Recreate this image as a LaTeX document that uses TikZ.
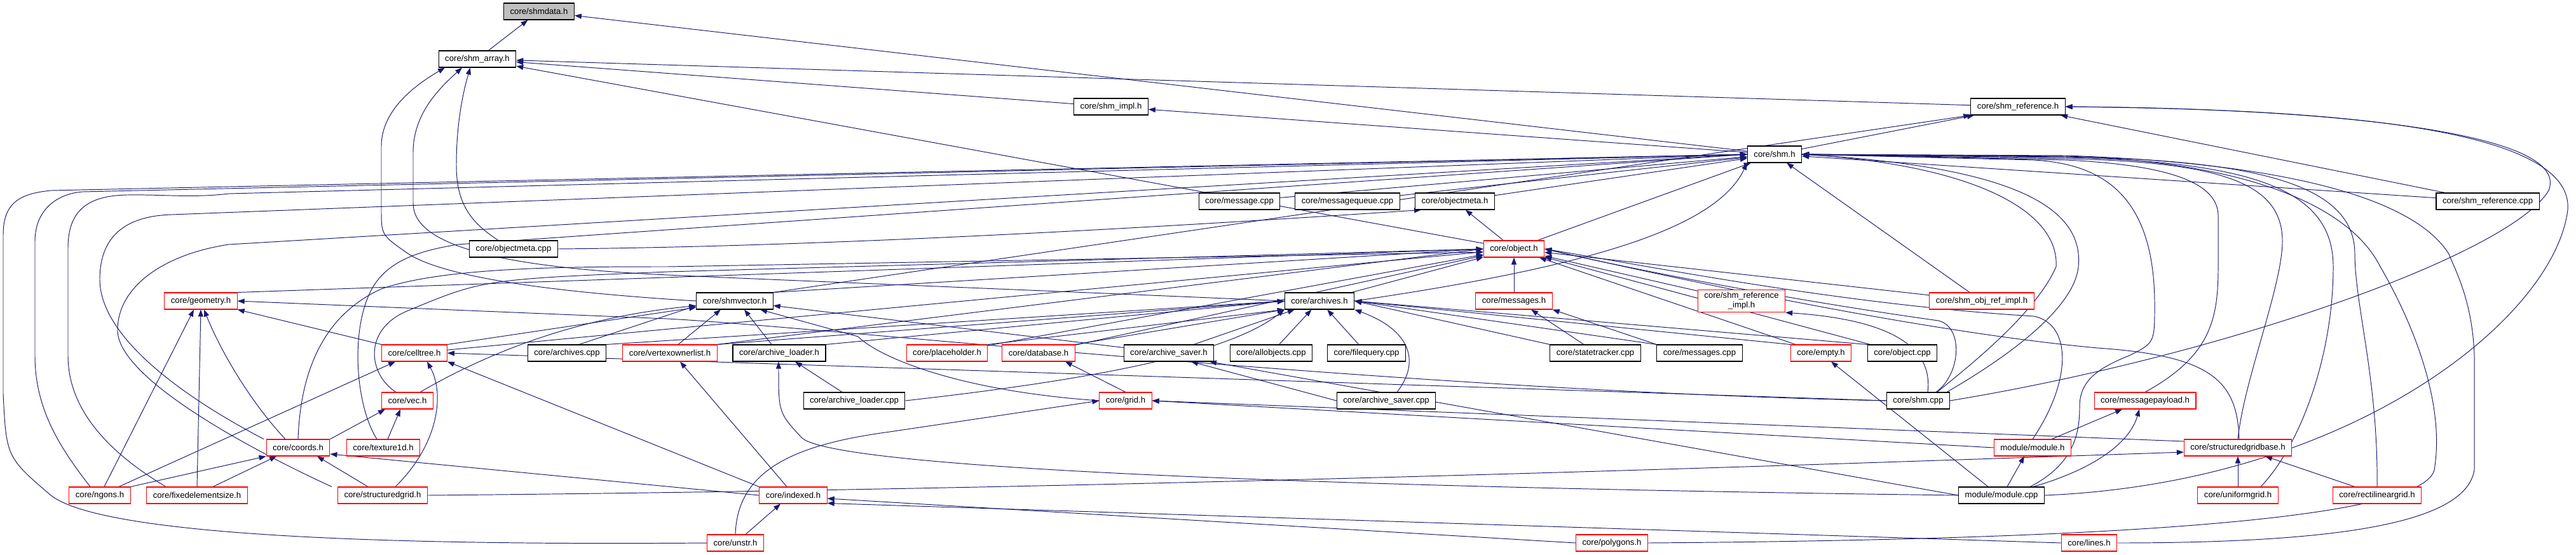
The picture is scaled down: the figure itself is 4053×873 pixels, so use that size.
\documentclass[tikz,border=0pt]{standalone}
\usepackage{fontspec}
\setmainfont{Liberation Sans}
\usetikzlibrary{arrows.meta}
\definecolor{midnightblue}{RGB}{25,25,112}
\definecolor{rootgray}{RGB}{191,191,191}
\pgfdeclarelayer{edges}
\pgfsetlayers{edges,main}
\tikzset{
  file/.style={
    draw=black,
    fill=white,
    line width=0.6pt,
    align=center,
    minimum height=0.52cm,
    inner xsep=0.2cm,
    inner ysep=0.08cm,
    font=\fontsize{7.5}{8.6}\selectfont
  },
  trunc/.style={
    file,
    draw=red
  },
  root/.style={
    file,
    fill=rootgray
  },
  arrow/.style={
    -{Triangle[length=0.22cm,width=0.16cm]},
    line width=0.55pt,
    midnightblue
  }
}

\begin{document}
\begin{tikzpicture}[x=0.02cm,y=-0.02cm]
\useasboundingbox (0,0) rectangle (4053,873);
\node[root] (shmdata) at (848,18) {core/shmdata.h};
\node[file] (shmarray) at (751,93) {core/shm\_array.h};
\node[file] (shmimpl) at (1748,168) {core/shm\_impl.h};
\node[file] (shmref) at (3175,168) {core/shm\_reference.h};
\node[file] (shm) at (2792,243) {core/shm.h};
\node[file] (messagecpp) at (1950,317) {core/message.cpp};
\node[file] (msgqueuecpp) at (2120,317) {core/messagequeue.cpp};
\node[file] (objmetah) at (2289,317) {core/objectmeta.h};
\node[file] (shmrefcpp) at (3914,317) {core/shm\_reference.cpp};
\node[file] (objmetacpp) at (808,392) {core/objectmeta.cpp};
\node[trunc] (objecth) at (2382,392) {core/object.h};
\node[trunc] (geometry) at (316,474) {core/geometry.h};
\node[file] (shmvector) at (1156,474) {core/shmvector.h};
\node[file] (archivesh) at (2076,474) {core/archives.h};
\node[trunc] (messagesh) at (2382,474) {core/messages.h};
\node[trunc] (shmrefimpl) at (2740,474) {core/shm\_reference\\\_impl.h};
\node[trunc] (shmobjrefimpl) at (3118,474) {core/shm\_obj\_ref\_impl.h};
\node[trunc] (celltree) at (652,556) {core/celltree.h};
\node[file] (archivescpp) at (892,556) {core/archives.cpp};
\node[trunc] (vertexowner) at (1054,556) {core/vertexownerlist.h};
\node[file] (loaderh) at (1226,556) {core/archive\_loader.h};
\node[trunc] (placeholder) at (1490,556) {core/placeholder.h};
\node[trunc] (database) at (1634,556) {core/database.h};
\node[file] (saverh) at (1839,556) {core/archive\_saver.h};
\node[file] (allobjects) at (2000,556) {core/allobjects.cpp};
\node[file] (filequery) at (2150,556) {core/filequery.cpp};
\node[file] (statetracker) at (2510,556) {core/statetracker.cpp};
\node[file] (messagescpp) at (2674,556) {core/messages.cpp};
\node[trunc] (emptyh) at (2865,556) {core/empty.h};
\node[file] (objectcpp) at (2993,556) {core/object.cpp};
\node[trunc] (vec) at (641,631) {core/vec.h};
\node[file] (loadercpp) at (1344,631) {core/archive\_loader.cpp};
\node[trunc] (grid) at (1771,631) {core/grid.h};
\node[file] (savercpp) at (2181,631) {core/archive\_saver.cpp};
\node[file] (shmcpp) at (3018,631) {core/shm.cpp};
\node[trunc] (payload) at (3375,631) {core/messagepayload.h};
\node[trunc] (coords) at (469,705) {core/coords.h};
\node[trunc] (texture) at (603,705) {core/texture1d.h};
\node[trunc] (moduleh) at (3198,705) {module/module.h};
\node[trunc] (sgridbase) at (3521,705) {core/structuredgridbase.h};
\node[trunc] (ngons) at (157,780) {core/ngons.h};
\node[trunc] (fixedsize) at (310,780) {core/fixedelementsize.h};
\node[trunc] (sgrid) at (602,780) {core/structuredgrid.h};
\node[trunc] (indexed) at (1248,780) {core/indexed.h};
\node[file] (modulecpp) at (3149,780) {module/module.cpp};
\node[trunc] (ugrid) at (3521,780) {core/uniformgrid.h};
\node[trunc] (rgrid) at (3740,780) {core/rectilineargrid.h};
\node[trunc] (unstr) at (1157,855) {core/unstr.h};
\node[trunc] (polygons) at (2536,855) {core/polygons.h};
\node[trunc] (lines) at (3287,855) {core/lines.h};

\begin{pgfonlayer}{edges}
\draw[arrow] (shmarray) -- (shmdata);
\draw[arrow] (shm) -- (shmdata);
\draw[arrow] (shmimpl) -- (shmarray);
\draw[arrow] (shmref) -- (shmarray);
\draw[arrow] (objecth) -- (shmarray);
\draw[arrow] ([xshift=-0.48cm]objmetacpp.north) .. controls (740,350) and (718,320) .. (718,260) .. controls (718,190) and (730,140) .. ([xshift=-0.22cm]shmarray.south);
\draw[arrow] (shmvector.west) .. controls (900,462) and (700,440) .. (640,398) .. controls (600,370) .. (600,330) -- (600,230) .. controls (600,170) and (660,130) .. ([xshift=-1.02cm]shmarray.south);
\draw[arrow] (archivesh.west) .. controls (1700,460) and (1200,440) .. (1050,433) .. controls (760,420) and (650,380) .. (650,320) -- (650,240) .. controls (650,180) and (690,140) .. ([xshift=-0.48cm]shmarray.south);
\draw[arrow] (shm) -- (shmimpl);
\draw[arrow] (shm) -- (shmref);
\draw[arrow] (shmrefcpp) -- (shmref);
\draw[arrow] (shmrefcpp) -- (shm);
\draw[arrow] (shmvector.north east) -- (shmref.south west);
\draw[arrow] (shmcpp.east) .. controls (3500,560) and (3950,400) .. (4010,300) .. controls (4050,200) and (3600,170) .. (shmref.east);
\draw[arrow] (modulecpp.east) .. controls (3700,760) and (4020,500) .. (4040,330) .. controls (4050,190) and (3600,172) .. (shmref.east);
\draw[arrow] (messagecpp) -- (shm);
\draw[arrow] (msgqueuecpp) -- (shm);
\draw[arrow] (objmetah) -- (shm);
\draw[arrow] (objecth) -- (shm);
\draw[arrow] (objecth) -- (objmetah);
\draw[arrow] (objmetacpp.east) .. controls (1100,390) and (1500,380) .. ([xshift=0.2cm]objmetah.south west);
\draw[arrow] (shmobjrefimpl) -- (shm);
\draw[arrow] (archivesh.east) .. controls (2500,420) and (2700,360) .. (shm.south west);
\draw[arrow] (unstr.west) .. controls (500,860) and (150,835) .. (80,780) .. controls (10,720) .. (5,620) -- (5,370) .. controls (5,320) and (30,305) .. (80,300) -- (shm.west);
\draw[arrow] ([xshift=-0.3cm]ngons.north) .. controls (90,700) and (55,640) .. (55,560) -- (55,380) .. controls (55,330) and (90,305) .. (130,302) -- (shm.west);
\draw[arrow] ([xshift=-0.98cm]fixedsize.north) .. controls (150,700) and (107,630) .. (107,560) -- (107,390) .. controls (107,330) and (140,308) .. (200,307) .. controls (260,306) and (300,312) .. (360,305) -- (shm.west);
\draw[arrow] ([xshift=-1.08cm]coords.north) .. controls (260,610) and (157,520) .. (157,440) .. controls (157,370) and (200,340) .. (270,338) -- (shm.west);
\draw[arrow] ([xshift=-1.6cm]sgrid.north) .. controls (420,720) and (185,600) .. (185,520) .. controls (185,450) and (260,400) .. (360,385) -- (shm.west);
\draw[arrow] ([xshift=-0.2cm]texture.north) .. controls (560,640) and (550,520) .. (585,455) .. controls (610,410) and (660,395) .. (720,385) -- (shm.west);
\draw[arrow] (payload.north) .. controls (3480,560) and (3490,500) .. (3490,420) -- (3490,340) .. controls (3490,290) and (3420,260) .. (3250,252) -- (shm.east);
\draw[arrow] (sgridbase.north) .. controls (3530,600) and (3591,450) .. (3591,380) .. controls (3591,290) and (3500,255) .. (3250,250) -- (shm.east);
\draw[arrow] ([xshift=0.72cm]ugrid.north) .. controls (3620,700) and (3671,560) .. (3671,420) .. controls (3671,300) and (3550,255) .. (3250,248) -- (shm.east);
\draw[arrow] (rgrid.north) .. controls (3742,600) and (3705,480) .. (3705,400) .. controls (3705,290) and (3550,252) .. (3250,247) -- (shm.east);
\draw[arrow] (polygons.east) .. controls (3300,850) and (3810,820) .. (3830,740) .. controls (3850,620) and (3780,480) .. (3745,420) .. controls (3700,330) and (3550,255) .. (3250,246) -- (shm.east);
\draw[arrow] (lines.east) .. controls (3700,855) and (3880,820) .. (3893,740) -- (3893,560) .. controls (3890,470) and (3860,420) .. (3853,400) .. controls (3790,300) and (3550,255) .. (3250,245) -- (shm.east);
\draw[arrow] ([xshift=0.9cm]modulecpp.north) .. controls (3265,730) and (3272,680) .. (3272,640) .. controls (3272,600) and (3300,580) .. (3350,560) .. controls (3390,540) .. (3390,480) .. controls (3390,300) and (3300,258) .. (3200,252) -- (shm.east);
\draw[arrow] ([xshift=0.6cm]shmcpp.north) .. controls (3080,590) and (3200,500) .. (3235,420) .. controls (3240,330) and (3100,260) .. (shm.east);
\draw[arrow] ([xshift=0.9cm]shmcpp.north) .. controls (3110,590) and (3262,500) .. (3270,420) .. controls (3280,320) and (3150,262) .. (shm.east);
\draw[arrow] ([xshift=0.3cm]shmcpp.north) .. controls (3040,560) and (3000,505) .. (shmrefimpl.south east);
\draw[arrow] (geometry.north east) -- (objecth.west);
\draw[arrow] (celltree) -- (objecth);
\draw[arrow] ([xshift=-0.36cm]vec.north) .. controls (580,590) and (570,520) .. (640,490) .. controls (760,440) .. (1050,428) -- (objecth.west);
\draw[arrow] (coords.north) .. controls (472,600) and (500,500) .. (600,455) .. controls (700,420) and (900,420) .. (1050,420) -- ([yshift=-0.1cm]objecth.west);
\draw[arrow] (shmvector.north east) -- (objecth.west);
\draw[arrow] (vertexowner.north east) -- (objecth.west);
\draw[arrow] (placeholder) -- (objecth);
\draw[arrow] (database) -- (objecth);
\draw[arrow] (archivesh) -- (objecth);
\draw[arrow] (messagesh) -- (objecth);
\draw[arrow] (shmrefimpl) -- (objecth);
\draw[arrow] (emptyh) -- (objecth);
\draw[arrow] (objectcpp) -- (objecth);
\draw[arrow] (shmobjrefimpl) -- (objecth);
\draw[arrow] ([xshift=0.56cm]shmcpp.north) .. controls (3085,590) and (3090,515) .. (3050,505) .. controls (2800,470) and (2550,420) .. (objecth.east);
\draw[arrow] (moduleh.north) .. controls (3260,600) and (3260,510) .. (3200,498) .. controls (2900,480) and (2600,420) .. (objecth.east);
\draw[arrow] ([xshift=0.04cm]sgridbase.north) .. controls (3520,600) and (3480,560) .. (3300,548) .. controls (3000,520) and (2600,430) .. (objecth.east);
\draw[arrow] (vertexowner.north east) -- (archivesh.west);
\draw[arrow] (loaderh.north east) -- (archivesh.west);
\draw[arrow] (placeholder.north east) -- (archivesh.south west);
\draw[arrow] (database.north east) -- (archivesh.south west);
\draw[arrow] (saverh) -- (archivesh);
\draw[arrow] (allobjects) -- (archivesh);
\draw[arrow] (filequery) -- (archivesh);
\draw[arrow] (loadercpp.east) .. controls (1700,600) and (1930,560) .. (archivesh.south west);
\draw[arrow] ([xshift=0.34cm]savercpp.north) .. controls (2235,570) and (2220,520) .. (archivesh.south east);
\draw[arrow] (archivescpp.north east) -- (archivesh.west);
\draw[arrow] (emptyh.north west) -- (archivesh.east);
\draw[arrow] (objectcpp.north west) -- (archivesh.east);
\draw[arrow] (statetracker.north west) -- (archivesh.east);
\draw[arrow] (messagescpp.north west) -- (archivesh.east);
\draw[arrow] ([xshift=0.26cm]vertexowner.north) -- ([xshift=-0.44cm]shmvector.south);
\draw[arrow] ([xshift=-0.24cm]loaderh.north) -- ([xshift=0.3cm]shmvector.south);
\draw[arrow] (saverh) -- (shmvector);
\draw[arrow] (grid.west) .. controls (1500,615) and (1380,560) .. (1350,530) -- ([xshift=0.8cm]shmvector.south);
\draw[arrow] ([xshift=0.4cm]vec.north) .. controls (760,560) and (900,500) .. ([yshift=-0.15cm]shmvector.west);
\draw[arrow] (celltree.north east) -- ([yshift=-0.2cm]shmvector.west);
\draw[arrow] ([xshift=0.38cm]archivescpp.north) -- ([yshift=-0.15cm]shmvector.west);
\draw[arrow] ([xshift=-0.2cm]indexed.north) -- ([xshift=0.32cm]vertexowner.south);
\draw[arrow] ([xshift=-0.38cm]loadercpp.north) -- ([xshift=0.5cm]loaderh.south);
\draw[arrow] (modulecpp.west) .. controls (2300,770) and (1330,745) .. (1262,690) .. controls (1225,650) .. ([xshift=-0.02cm]loaderh.south);
\draw[arrow] (savercpp.west) -- ([xshift=0.7cm]saverh.south);
\draw[arrow] (modulecpp.west) -- ([xshift=1.28cm]saverh.south);
\draw[arrow] (grid.north) -- ([xshift=0.84cm]database.south);
\draw[arrow] (unstr.north) .. controls (1160,740) and (1250,700) .. (1400,680) -- (grid.west);
\draw[arrow] (moduleh.west) -- (grid.east);
\draw[arrow] ([yshift=0.2cm]sgridbase.west) -- (grid.east);
\draw[arrow] (ngons) -- (celltree);
\draw[arrow] ([xshift=0.4cm]sgrid.north) .. controls (690,700) and (700,620) .. ([xshift=0.4cm]celltree.south);
\draw[arrow] (indexed.north west) -- (celltree.south east);
\draw[arrow] (shmcpp.west) -- (celltree.east);
\draw[arrow] (shmcpp.west) .. controls (2200,615) and (1300,515) .. (1050,502) -- (geometry.east);
\draw[arrow] (celltree.north west) -- (geometry.south east);
\draw[arrow] ([xshift=0.14cm]ngons.north) -- ([xshift=-0.22cm]geometry.south);
\draw[arrow] (fixedsize.north) -- (geometry.south);
\draw[arrow] ([xshift=-0.4cm]coords.north) .. controls (400,640) and (350,560) .. ([xshift=0.1cm]geometry.south);
\draw[arrow] (ngons.north east) -- (coords.south west);
\draw[arrow] ([xshift=0.5cm]fixedsize.north) -- ([xshift=-0.68cm]coords.south);
\draw[arrow] ([xshift=-0.46cm]sgrid.north) -- ([xshift=0.6cm]coords.south);
\draw[arrow] (indexed.west) -- ([yshift=-0.2cm]coords.east);
\draw[arrow] (coords.north east) -- ([xshift=-0.7cm]vec.south);
\draw[arrow] ([xshift=0.14cm]texture.north) -- ([xshift=-0.22cm]vec.south);
\draw[arrow] ([xshift=0.32cm]unstr.north) -- ([xshift=-0.4cm]indexed.south);
\draw[arrow] (polygons.west) -- ([yshift=-0.1cm]indexed.east);
\draw[arrow] (lines.west) -- ([yshift=-0.25cm]indexed.east);
\draw[arrow] ([xshift=0.6cm]moduleh.north) -- ([xshift=-0.72cm]payload.south);
\draw[arrow] ([xshift=1.0cm]modulecpp.north) .. controls (3290,740) and (3350,700) .. ([xshift=-0.18cm]payload.south);
\draw[arrow] ([xshift=0.18cm]modulecpp.north) -- ([xshift=-0.26cm]moduleh.south);
\draw[arrow] ([xshift=-0.42cm]modulecpp.north) -- ([xshift=0.32cm]emptyh.south);
\draw[arrow] (ugrid) -- (sgridbase);
\draw[arrow] ([xshift=-0.7cm]rgrid.north) -- ([xshift=0.86cm]sgridbase.south);
\draw[arrow] (sgrid.east) .. controls (1800,770) and (2900,730) .. ([yshift=-0.14cm]sgridbase.west);
\draw[arrow] ([xshift=-0.36cm]statetracker.north) -- ([xshift=0.54cm]messagesh.south);
\draw[arrow] (messagescpp.north west) -- (messagesh.south east);
\end{pgfonlayer}
\end{tikzpicture}
\end{document}
